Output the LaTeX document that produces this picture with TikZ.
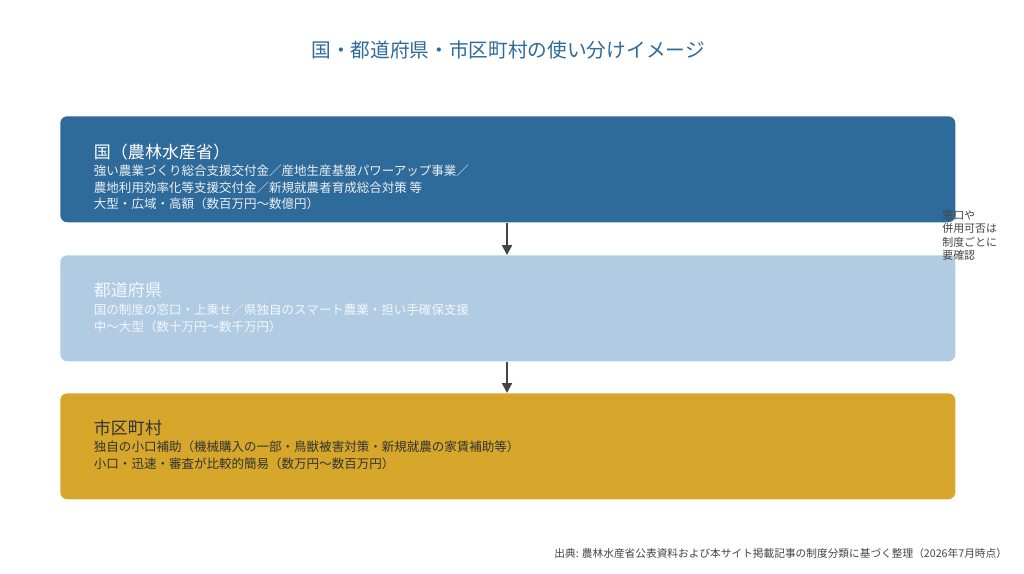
\documentclass[tikz,border=0pt]{standalone}
\usepackage{fontspec}
\setmainfont{Noto Sans CJK JP}
\usetikzlibrary{positioning,arrows.meta}
\definecolor{navy}{HTML}{2E6A9A}
\definecolor{pale}{HTML}{B0CBE2}
\definecolor{gold}{HTML}{D6A72A}
\definecolor{ink}{HTML}{444444}
\begin{document}
\begin{tikzpicture}[
    x=0.025cm, y=-0.025cm,
    tier/.style={
        rectangle,
        rounded corners=5pt,
        minimum width=895*0.025cm,
        minimum height=106*0.025cm,
        anchor=north west
    },
    head/.style={anchor=north west, font=\fontsize{12.1}{14}\selectfont},
    body/.style={anchor=north west, align=left, font=\fontsize{8.9}{11.7}\selectfont},
    flow/.style={-{Triangle[length=7pt,width=7pt]}, line width=1.4pt, draw=ink}
]
    \useasboundingbox (0,0) rectangle (1024,573);
    % Title
    \node[text=navy, font=\fontsize{14}{16}\selectfont] (title) at (508,50) {国・都道府県・市区町村の使い分けイメージ};

    % Tiers
    \node[tier, fill=navy] (kuni) at (60,116) {};
    \node[tier, fill=pale] (pref) at (60,255) {};
    \node[tier, fill=gold] (city) at (60,393) {};

    \node[head, text=white] (kunihead) at (89,139) {国（農林水産省）};
    \node[body, text=white!90!navy] (kunibody) at (89,160) {強い農業づくり総合支援交付金／産地生産基盤パワーアップ事業／\\農地利用効率化等支援交付金／新規就農者育成総合対策 等\\大型・広域・高額（数百万円〜数億円）};
    \node[head, text=white!85!pale] (prefhead) at (89,277) {都道府県};
    \node[body, text=white!85!pale] (prefbody) at (89,299) {国の制度の窓口・上乗せ／県独自のスマート農業・担い手確保支援\\中〜大型（数十万円〜数千万円）};
    \node[head, text=black!80] (cityhead) at (89,415) {市区町村};
    \node[body, text=black!80] (citybody) at (89,436) {独自の小口補助（機械購入の一部・鳥獣被害対策・新規就農の家賃補助等）\\小口・迅速・審査が比較的簡易（数万円〜数百万円）};

    % Arrows
    \draw[flow] (kuni.south -| 507,0) -- (pref.north -| 507,0);
    \draw[flow] (pref.south -| 507,0) -- (city.north -| 507,0);

    % Side note
    \node[body, text=ink, font=\fontsize{7.8}{9.5}\selectfont, inner sep=0pt] (note) at (942,210) {窓口や\\併用可否は\\制度ごとに\\要確認};

    % Source
    \node[anchor=east, text=ink, font=\fontsize{7.6}{9}\selectfont] (source) at (1012,553) {出典: 農林水産省公表資料および本サイト掲載記事の制度分類に基づく整理（2026年7月時点）};
\end{tikzpicture}
\end{document}
